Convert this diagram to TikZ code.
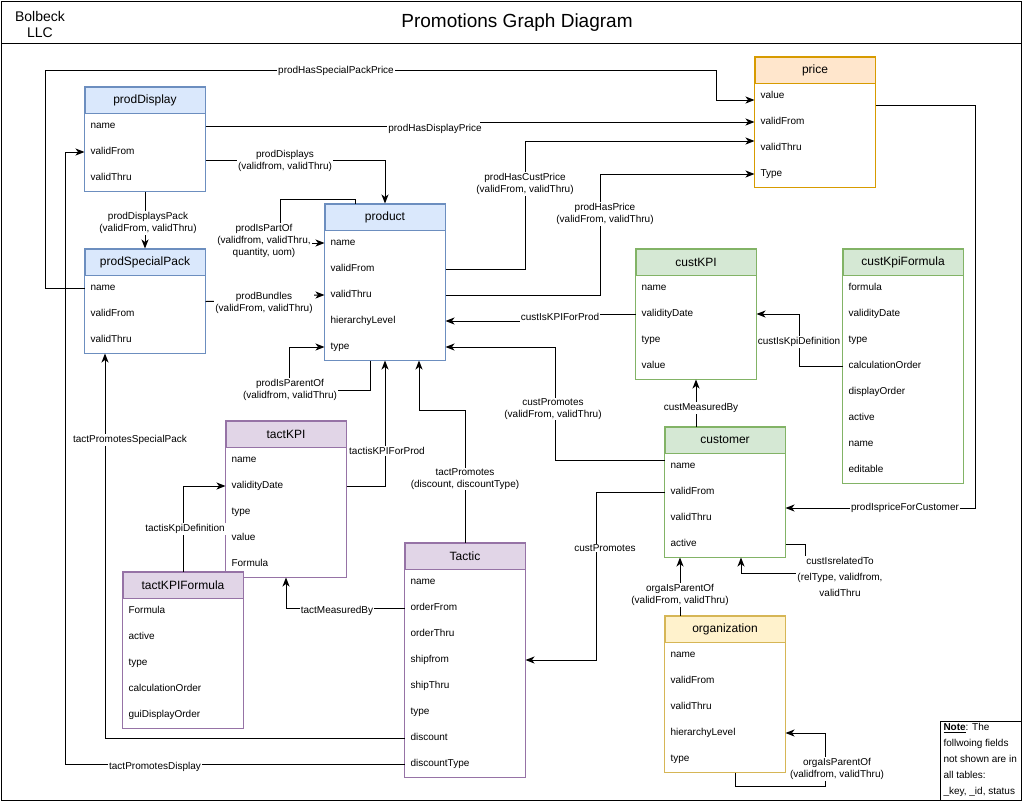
\documentclass[tikz,border=0pt]{standalone}
\usepackage{fontspec}
\setmainfont{Liberation Sans}
\usetikzlibrary{arrows.meta}
\definecolor{blueF}{HTML}{DAE8FC}
\definecolor{blueL}{HTML}{6C8EBF}
\definecolor{orangeF}{HTML}{FFE6CC}
\definecolor{orangeL}{HTML}{D79B00}
\definecolor{greenF}{HTML}{D5E8D4}
\definecolor{greenL}{HTML}{82B366}
\definecolor{purpleF}{HTML}{E1D5E7}
\definecolor{purpleL}{HTML}{9673A6}
\definecolor{yellowF}{HTML}{FFF2CC}
\definecolor{yellowL}{HTML}{D6B656}

\begin{document}
\begin{tikzpicture}
[x=1pt,y=-1pt,line width=1pt,>={Stealth[length=9pt,width=7pt,inset=2.5pt]},%
  hd/.style={minimum width=120pt,minimum height=26pt,inner sep=0pt,
    font=\fontsize{12}{14}\selectfont},
  fld/.style={fill=white,text width=109pt,inner xsep=5.5pt,inner ysep=0pt,
    minimum height=26pt,text height=7.5pt,text depth=2.5pt,align=left,
    font=\fontsize{10}{12}\selectfont},
  lbl/.style={fill=white,inner sep=1pt,align=center,
    font=\fontsize{10}{12}\selectfont}]
\useasboundingbox (0,0) rectangle (1023,801);
%% frame and title
\draw (1,1) rectangle (1021,800);
\draw (2,43) -- (1021,43);
\node[align=center,font=\fontsize{14}{16}\selectfont] (company) at (40,24) {Bolbeck\\LLC};
\node[font=\fontsize{19}{22}\selectfont] (title) at (517,23) {Promotions Graph Diagram};
%% tables
\foreach \f [count=\i] in {name,validFrom,validThru}
  \node[fld] (prodDisplay-\i) at (145,100+26*\i) {\f};
\node[hd,fill=blueF,draw=blueL] (prodDisplay) at (145,100) {prodDisplay};
\draw[blueL] (prodDisplay.north west) rectangle (prodDisplay-3.south east);

\foreach \f [count=\i] in {name,validFrom,validThru}
  \node[fld] (prodSpecialPack-\i) at (145,262+26*\i) {\f};
\node[hd,fill=blueF,draw=blueL] (prodSpecialPack) at (145,262) {prodSpecialPack};
\draw[blueL] (prodSpecialPack.north west) rectangle (prodSpecialPack-3.south east);

\foreach \f [count=\i] in {name,validFrom,validThru,hierarchyLevel,type}
  \node[fld] (product-\i) at (385,217+26*\i) {\f};
\node[hd,fill=blueF,draw=blueL] (product) at (385,217) {product};
\draw[blueL] (product.north west) rectangle (product-5.south east);

\foreach \f [count=\i] in {value,validFrom,validThru,Type}
  \node[fld] (price-\i) at (815,70+26*\i) {\f};
\node[hd,fill=orangeF,draw=orangeL] (price) at (815,70) {price};
\draw[orangeL] (price.north west) rectangle (price-4.south east);

\foreach \f [count=\i] in {name,validityDate,type,value}
  \node[fld] (custKPI-\i) at (696,262+26*\i) {\f};
\node[hd,fill=greenF,draw=greenL] (custKPI) at (696,262) {custKPI};
\draw[greenL] (custKPI.north west) rectangle (custKPI-4.south east);

\foreach \f [count=\i] in {formula,validityDate,type,calculationOrder,displayOrder,active,name,editable}
  \node[fld] (custKpiFormula-\i) at (903,262+26*\i) {\f};
\node[hd,fill=greenF,draw=greenL] (custKpiFormula) at (903,262) {custKpiFormula};
\draw[greenL] (custKpiFormula.north west) rectangle (custKpiFormula-8.south east);

\foreach \f [count=\i] in {name,validFrom,validThru,active}
  \node[fld] (customer-\i) at (725,440+26*\i) {\f};
\node[hd,fill=greenF,draw=greenL] (customer) at (725,440) {customer};
\draw[greenL] (customer.north west) rectangle (customer-4.south east);

\foreach \f [count=\i] in {name,validFrom,validThru,hierarchyLevel,type}
  \node[fld] (organization-\i) at (725,629+26*\i) {\f};
\node[hd,fill=yellowF,draw=yellowL] (organization) at (725,629) {organization};
\draw[yellowL] (organization.north west) rectangle (organization-5.south east);

\foreach \f [count=\i] in {name,validityDate,type,value,Formula}
  \node[fld] (tactKPI-\i) at (286,434+26*\i) {\f};
\node[hd,fill=purpleF,draw=purpleL] (tactKPI) at (286,434) {tactKPI};
\draw[purpleL] (tactKPI.north west) rectangle (tactKPI-5.south east);

\foreach \f [count=\i] in {name,orderFrom,orderThru,shipfrom,shipThru,type,discount,discountType}
  \node[fld] (Tactic-\i) at (465,556+26*\i) {\f};
\node[hd,fill=purpleF,draw=purpleL] (Tactic) at (465,556) {Tactic};
\draw[purpleL] (Tactic.north west) rectangle (Tactic-8.south east);

\foreach \f [count=\i] in {Formula,active,type,calculationOrder,guiDisplayOrder}
  \node[fld] (tactKPIFormula-\i) at (183,585+26*\i) {\f};
\node[hd,fill=purpleF,draw=purpleL] (tactKPIFormula) at (183,585) {tactKPIFormula};
\draw[purpleL] (tactKPIFormula.north west) rectangle (tactKPIFormula-5.south east);
%% connectors
\draw[->] (prodSpecialPack-1.west) -| (45,70) -| (716,100) -- ([yshift=-4pt]price-1.west)
  node[lbl] (lSpPrice) at (336,71) {prodHasSpecialPackPrice};
\draw[->] (prodDisplay-1.east) -- (480,126) |- (price-2.west)
  node[lbl] (lDispPrice) at (435,129) {prodHasDisplayPrice};
\draw[->] ([yshift=-8pt]prodDisplay-2.east) -| (product.north)
  node[lbl] (lDisplays) at (285,161) {prodDisplays\\(validfrom, validThru)};
\draw[->] (prodDisplay-3.south) -- (prodSpecialPack.north)
  node[lbl] (lDispPack) at (148,223) {prodDisplaysPack\\(validFrom, validThru)};
\draw[->] ([xshift=-30pt]product.north) -- ++(0,-4) -| (280,243) -- (product-1.west)
  node[lbl] (lPartOf) at (264,241) {prodIsPartOf\\(validfrom, validThru,\\quantity, uom)};
\draw[->] (prodSpecialPack-1.south east) -- (265,301) |- (product-3.west)
  node[lbl] (lBundles) at (264,303) {prodBundles\\(validFrom, validThru)};
\draw[->] ([xshift=-15pt]product-5.south) -- ++(0,30) -| (289,347) -- (product-5.west)
  node[lbl] (lParent) at (290,390) {prodIsParentOf\\(validfrom, validThru)};
\draw[->] (tactKPI-2.east) -| (product-5.south)
  node[lbl] (lTactProd) at (387,451) {tactisKPIForProd};
\draw[->] (Tactic.north) -- (465,410) -| ([xshift=34pt]product-5.south)
  node[lbl] (lTactProm) at (465,479) {tactPromotes\\(discount, discountType)};
\draw[->] (custKPI-2.west) -- (560,314) |- (product-4.east)
  node[lbl] (lCustProd) at (560,317) {custIsKPIForProd};
\draw[->] ([yshift=6pt]customer-1.west) -- (555,460) |- (product-5.east)
  node[lbl] (lCustProm) at (553,409) {custPromotes\\(validFrom, validThru)};
\draw[->] (customer-2.west) -- (596,492) |- (Tactic-4.east)
  node[lbl] (lCustTact) at (605,548) {custPromotes};
\draw[->] (custKPI-4.south |- customer.north) -- (custKPI-4.south)
  node[lbl] (lMeasured) at (701,408) {custMeasuredBy};
\draw[->] (custKpiFormula-4.west) -- (799,366) |- (custKPI-2.east)
  node[lbl] (lKpiDef) at (799,342) {custIsKpiDefinition};
\draw[->] ([yshift=-9pt]price-1.east) -- (975,105) |- ([yshift=10pt]customer-3.east)
  node[lbl] (lPriceCust) at (905,508) {prodIspriceForCustomer};
\draw[->] (customer-4.east) -| (805,573) -| ([xshift=16pt]customer-4.south)
  node[lbl,font=\fontsize{10}{16}\selectfont] (lRelated) at (840,577)
  {custIsrelatedTo\\(relType, validfrom,\\validThru};
\draw[->] ([xshift=-45pt]organization.north) -- ([xshift=-45pt]customer-4.south)
  node[lbl] (lOrgCust) at (680,595) {orgaIsParentOf\\(validFrom, validThru)};
\draw[->] ([xshift=10pt]organization-5.south) -- ++(0,14) -| (825,733) -- (organization-4.east)
  node[lbl] (lOrgSelf) at (837,769) {orgaIsParentOf\\(validfrom, validThru)};
\draw[->] (tactKPIFormula.north) |- (tactKPI-2.west)
  node[lbl] (lTactDef) at (185,529) {tactisKpiDefinition};
\draw[->] (Tactic-2.west) -| (tactKPI-5.south)
  node[lbl] (lTactMeas) at (337,611) {tactMeasuredBy};
\draw[->] (Tactic-7.west) -| ([xshift=-40pt]prodSpecialPack-3.south)
  node[lbl] (lTactPack) at (130,440) {tactPromotesSpecialPack};
\draw[->] (Tactic-8.west) -| (65,152) -- (prodDisplay-2.west)
  node[lbl] (lTactDisp) at (155,767) {tactPromotesDisplay};
\draw[->] (product-2.east) -| (525,141) -- ([yshift=7pt]price-3.west)
  node[lbl] (lCustPrice) at (525,184) {prodHasCustPrice\\(validFrom, validThru)};
\draw[->] (product-3.east) -| (600,174) -- (price-4.west)
  node[lbl] (lHasPrice) at (605,214) {prodHasPrice\\(validFrom, validThru)};
%% note
\draw (940,721) rectangle (1021,800);
\node[anchor=north west,inner sep=2pt,align=left,font=\fontsize{10}{16}\selectfont] (note)
  at (941,721) {\textbf{\underline{Note}}: The\\follwoing fields\\not shown are in\\all tables:\\\_key, \_id, status};
\end{tikzpicture}
\end{document}
